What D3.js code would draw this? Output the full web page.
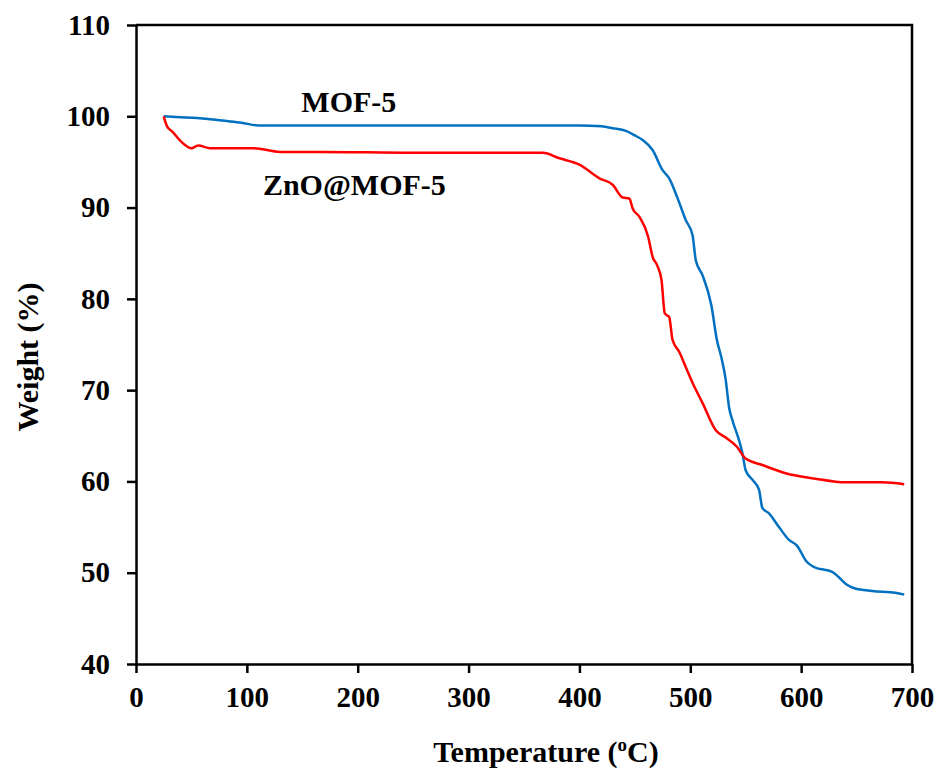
<!DOCTYPE html>
<html>
<head>
<meta charset="utf-8">
<script src="https://cdn.jsdelivr.net/npm/d3@7"></script>
<style>
  body { margin: 0; background: #fff; }
  text { font-family: "Liberation Serif", "Times New Roman", serif; font-weight: bold; }
</style>
</head>
<body>
<div id="chart"></div>
<script>
// MOF-5 curve (temperature in C, weight in %)
var mofTemp = [25, 40, 55, 65, 80, 95, 110, 150, 200, 250, 300, 350, 400, 420, 430, 442, 450, 457, 466, 475, 481, 488, 496, 502, 505, 511, 519, 524, 528, 532, 535, 538, 544, 547, 550, 556, 562, 565, 571, 580, 589, 596, 605, 612, 628, 634, 641, 648, 664, 685, 693];
var mofWeight = [100, 99.9, 99.8, 99.7, 99.5, 99.3, 99.0, 99.0, 99.0, 99.0, 99.0, 99.0, 99.0, 98.9, 98.7, 98.4, 97.9, 97.4, 96.3, 94.1, 93.2, 91.2, 88.6, 87.0, 84.2, 82.6, 79.3, 75.5, 73.6, 71.1, 68.1, 66.7, 64.5, 63.1, 61.2, 60.2, 59.1, 57.1, 56.5, 55.0, 53.6, 53.0, 51.2, 50.6, 50.1, 49.5, 48.7, 48.3, 48.0, 47.8, 47.6];

// ZnO@MOF-5 curve
var znTemp = [25, 28, 33, 41, 50, 56, 67, 106, 130, 166, 250, 300, 367, 382, 400, 418, 430, 439, 445, 448, 454, 462, 466, 470, 474, 477, 481, 484, 490, 496, 502, 511, 523, 532, 542, 550, 565, 586, 613, 640, 673, 693];
var znWeight = [100, 98.9, 98.3, 97.2, 96.5, 96.8, 96.5, 96.5, 96.1, 96.1, 96.0, 96.0, 96.0, 95.4, 94.7, 93.2, 92.5, 91.1, 91.0, 89.9, 89.0, 86.8, 84.6, 83.7, 82.1, 78.4, 78.0, 75.5, 74.2, 72.5, 70.8, 68.6, 65.6, 64.8, 63.8, 62.5, 61.8, 60.9, 60.3, 59.9, 59.9, 59.7];

var xTicks = [0, 100, 200, 300, 400, 500, 600, 700];
var yTicks = [40, 50, 60, 70, 80, 90, 100, 110];
var seriesNames = ["MOF-5", "ZnO@MOF-5"];

function drawChart() {
    var margin = { top: 25, right: 27, bottom: 107, left: 136 },
        width = 939 - margin.left - margin.right,
        height = 771 - margin.top - margin.bottom;

    var svg = d3.select("#chart").append("svg")
        .attr("width", 939)
        .attr("height", 771)
        .style("display", "block")
        .style("background", "#fff");

    var g = svg.append("g")
        .attr("transform", `translate(${margin.left},${margin.top})`);

    var x = d3.scaleLinear().domain([0, 700]).range([0, width]);
    var y = d3.scaleLinear().domain([40, 110]).range([height, 0]);

    // frame (top and right)
    g.append("path")
        .attr("d", `M0,0H${width}V${height}`)
        .attr("fill", "none")
        .attr("stroke", "#000")
        .attr("stroke-width", 2.5);

    var xAxis = g.append("g")
        .attr("transform", `translate(0,${height})`)
        .call(d3.axisBottom(x).tickValues(xTicks).tickSize(9).tickSizeOuter(0).tickPadding(13));

    var yAxis = g.append("g")
        .call(d3.axisLeft(y).tickValues(yTicks).tickSize(9).tickSizeOuter(0).tickPadding(17));

    [xAxis, yAxis].forEach(function (ax) {
        ax.selectAll("path, line").attr("stroke", "#000").attr("stroke-width", 2.5);
        ax.selectAll("text")
            .attr("fill", "#000")
            .style("font-family", "Liberation Serif")
            .style("font-weight", "bold")
            .style("font-size", "29px");
    });

    var line = d3.line()
        .x(function (d) { return x(d[0]); })
        .y(function (d) { return y(d[1]); })
        .curve(d3.curveMonotoneX);

    var series = [
        { name: seriesNames[0], color: "#0070C0", pts: d3.zip(mofTemp, mofWeight) },
        { name: seriesNames[1], color: "#FF0000", pts: d3.zip(znTemp, znWeight) }
    ];

    series.forEach(function (s) {
        g.append("path")
            .datum(s.pts)
            .attr("fill", "none")
            .attr("stroke", s.color)
            .attr("stroke-width", 2.5)
            .attr("stroke-linejoin", "round")
            .attr("d", line);
    });

    // curve labels
    g.append("text")
        .attr("x", x(192))
        .attr("y", y(100.5))
        .attr("text-anchor", "middle")
        .style("font-size", "30px")
        .text(seriesNames[0]);

    g.append("text")
        .attr("x", x(197))
        .attr("y", y(91.4))
        .attr("text-anchor", "middle")
        .style("font-size", "30px")
        .text(seriesNames[1]);

    // axis titles
    var xt = svg.append("text")
        .attr("x", 546)
        .attr("y", 762)
        .attr("text-anchor", "middle")
        .style("font-size", "30px");
    xt.append("tspan").text("Temperature (");
    xt.append("tspan").attr("dy", -11).style("font-size", "19px").text("o");
    xt.append("tspan").attr("dy", 11).text("C)");

    svg.append("text")
        .attr("transform", "translate(38,357) rotate(-90)")
        .attr("text-anchor", "middle")
        .style("font-size", "30px")
        .text("Weight (%)");
}

drawChart();
</script>
</body>
</html>
